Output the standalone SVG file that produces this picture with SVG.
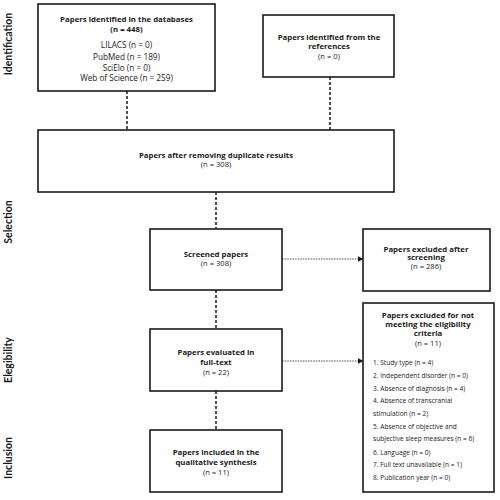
<svg xmlns="http://www.w3.org/2000/svg" width="500" height="500" viewBox="0 0 500 500">
<style>
.box{fill:#fff;stroke:#1a1a1a;stroke-width:1.6}
text{font-family:"Open Sans","Liberation Sans",sans-serif;fill:#1a1a1a}
.t{font-size:7.8px;font-weight:bold;text-anchor:middle}
.n{font-size:7.6px;text-anchor:middle}
.db{font-size:8.2px;text-anchor:middle}
.l{font-size:6.6px}
.side{font-family:Lato,"Open Sans",sans-serif;font-size:10.5px;font-weight:bold;text-anchor:middle}
.v{stroke:#1a1a1a;stroke-width:1.5;stroke-dasharray:3 2;fill:none}
.h{stroke:#444;stroke-width:0.9;stroke-dasharray:1.6 1;fill:none}
</style>
<defs>
<marker id="arr" viewBox="0 0 10 10" refX="9" refY="5" markerWidth="6" markerHeight="6" markerUnits="userSpaceOnUse" orient="auto">
<path d="M0,0 L10,5 L0,10 z" fill="#1a1a1a"/>
</marker>
</defs>
<g id="phases">
<text class="side" transform="translate(12,44) rotate(-90)">Identification</text>
<text class="side" transform="translate(12,222) rotate(-90)">Selection</text>
<text class="side" transform="translate(12,360) rotate(-90)">Elegibility</text>
<text class="side" transform="translate(12,458) rotate(-90)">Inclusion</text>
</g>
<g id="connectors">
<line class="v" x1="127" y1="91" x2="127" y2="130"/>
<line class="v" x1="330" y1="77" x2="330" y2="130"/>
<line class="v" x1="216" y1="192" x2="216" y2="229"/>
<line class="v" x1="216" y1="290" x2="216" y2="329"/>
<line class="v" x1="216" y1="391" x2="216" y2="430"/>
<line class="h" x1="282" y1="259" x2="363" y2="259" marker-end="url(#arr)"/>
<line class="h" x1="282" y1="361" x2="363" y2="361" marker-end="url(#arr)"/>
</g>
<g id="databases">
<rect class="box" x="38" y="4" width="177" height="87"/>
<text class="t" x="126.5" y="21.5">Papers identified in the databases</text>
<text class="t" x="126.5" y="31.5">(n = 448)</text>
<text class="db" x="126.5" y="47.5">LILACS (n = 0)</text>
<text class="db" x="126.5" y="59.5">PubMed (n = 189)</text>
<text class="db" x="126.5" y="70.5">SciElo (n = 0)</text>
<text class="db" x="126.5" y="81">Web of Science (n = 259)</text>
</g>
<g id="references">
<rect class="box" x="263" y="15" width="131" height="62"/>
<text class="t" x="329" y="39.5">Papers identified from the</text>
<text class="t" x="329" y="49">references</text>
<text class="n" x="329" y="58.5">(n = 0)</text>
</g>
<g id="duplicates">
<rect class="box" x="38" y="130" width="356" height="62"/>
<text class="t" x="216" y="158">Papers after removing duplicate results</text>
<text class="n" x="216" y="167">(n = 308)</text>
</g>
<g id="screened">
<rect class="box" x="150" y="229" width="132" height="61"/>
<text class="t" x="216" y="257">Screened papers</text>
<text class="n" x="216" y="266">(n = 308)</text>
</g>
<g id="excluded-screening">
<rect class="box" x="363" y="229" width="127" height="62"/>
<text class="t" x="426" y="251.5">Papers excluded after</text>
<text class="t" x="426" y="260">screening</text>
<text class="n" x="426" y="268.5">(n = 286)</text>
</g>
<g id="excluded-eligibility">
<rect class="box" x="363" y="303" width="131" height="189"/>
<text class="t" x="428" y="317.5">Papers excluded for not</text>
<text class="t" x="428" y="326.5">meeting the eligibility</text>
<text class="t" x="428" y="335.5">criteria</text>
<text class="n" x="428" y="345.5">(n = 11)</text>
<text class="l" x="373" y="364.5">1. Study type (n = 4)</text>
<text class="l" x="373" y="377.5">2. Independent disorder (n = 0)</text>
<text class="l" x="373" y="390.5">3. Absence of diagnosis (n = 4)</text>
<text class="l" x="373" y="402.5">4. Absence of transcranial</text>
<text class="l" x="373" y="415.5">stimulation (n = 2)</text>
<text class="l" x="373" y="428.5">5. Absence of objective and</text>
<text class="l" x="373" y="440.5">subjective sleep measures (n = 6)</text>
<text class="l" x="373" y="454.5">6. Language (n = 0)</text>
<text class="l" x="373" y="466.5">7. Full text unavailable (n = 1)</text>
<text class="l" x="373" y="479.5">8. Publication year (n = 0)</text>
</g>
<g id="fulltext">
<rect class="box" x="150" y="329" width="132" height="62"/>
<text class="t" x="216" y="354.5">Papers evaluated in</text>
<text class="t" x="216" y="364.5">full-text</text>
<text class="n" x="216" y="374.5">(n = 22)</text>
</g>
<g id="included">
<rect class="box" x="150" y="430" width="132" height="62"/>
<text class="t" x="216" y="454.5">Papers included in the</text>
<text class="t" x="216" y="464.5">qualitative synthesis</text>
<text class="n" x="216" y="474.5">(n = 11)</text>
</g>
</svg>
